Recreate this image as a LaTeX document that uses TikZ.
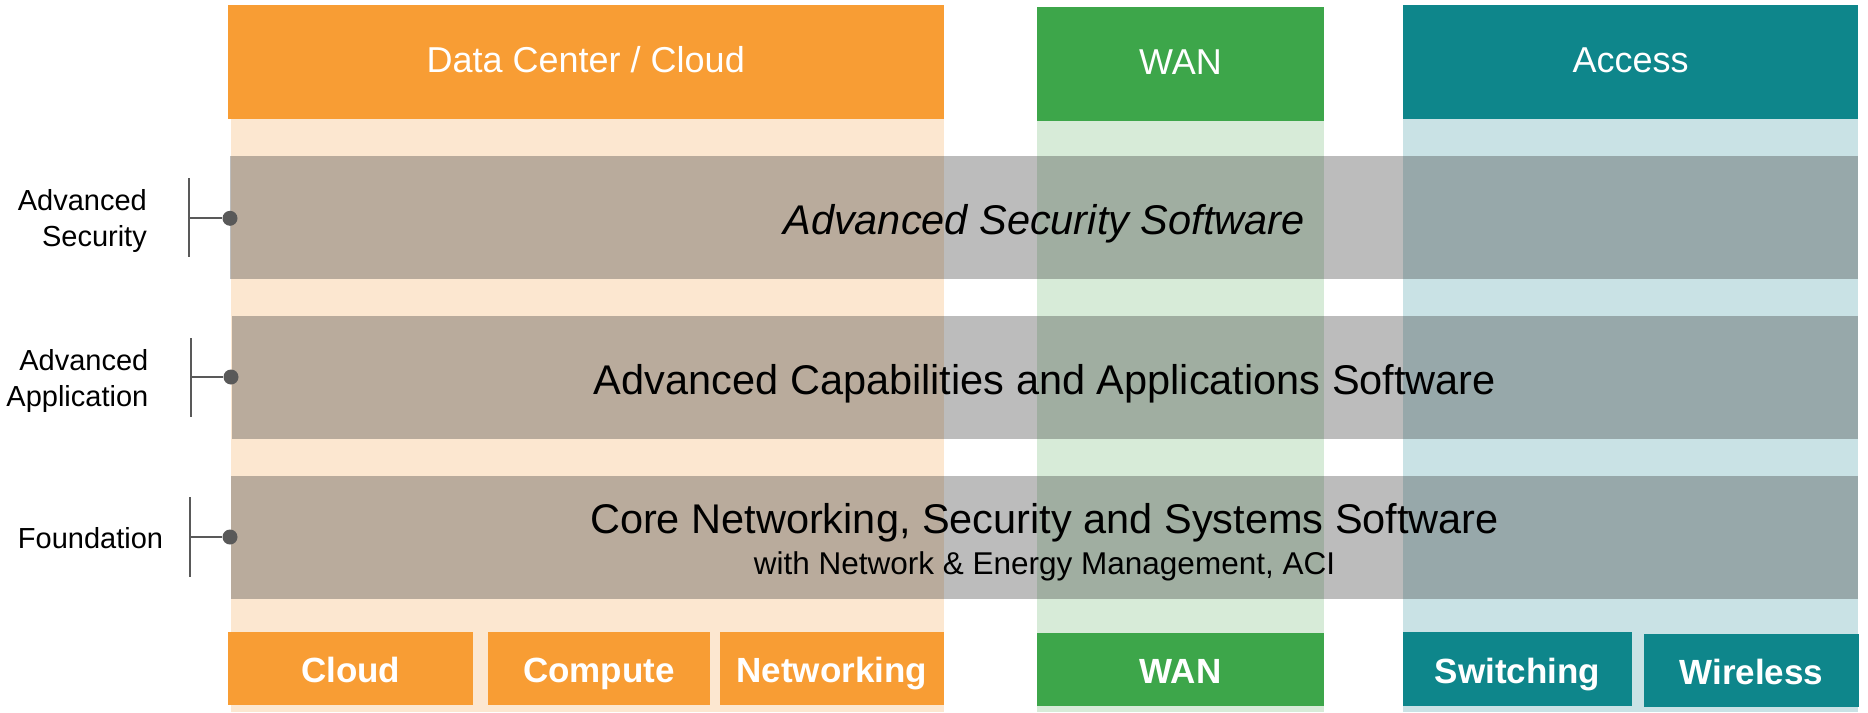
\documentclass[tikz,border=0pt]{standalone}
\usepackage{fontspec}
\setmainfont{Liberation Sans}
\usepackage{tikz}
\definecolor{dcorange}{RGB}{248,157,52}
\definecolor{dclight}{RGB}{252,231,208}
\definecolor{wangreen}{RGB}{61,166,74}
\definecolor{wanlight}{RGB}{215,235,216}
\definecolor{accteal}{RGB}{14,134,139}
\definecolor{acclight}{RGB}{201,226,229}
\definecolor{bandgray}{RGB}{51,51,51}
\definecolor{tickgray}{RGB}{89,89,89}
\tikzstyle{head}=[inner sep=0pt,text=white,text height=26pt,text depth=4.6pt,font=\fontsize{36}{43}\selectfont]
\tikzstyle{base}=[inner sep=0pt,text=white,text height=28pt,text depth=0pt,font=\bfseries\fontsize{35}{42}\selectfont]
\tikzstyle{layer}=[inner sep=0pt,fill=bandgray,fill opacity=0.33,text opacity=1,align=center,minimum height=123pt,text height=33pt,text depth=0pt,font=\fontsize{41.5}{41}\selectfont]
\tikzstyle{tier}=[inner sep=0pt,align=right,text height=57pt,text depth=0pt,font=\fontsize{29}{36}\selectfont]
\tikzstyle{knob}=[circle,fill=tickgray,inner sep=0pt,minimum size=15pt]
\tikzstyle{tick}=[draw=tickgray,line width=2.2pt]

\begin{document}
\begin{tikzpicture}[x=1pt,y=-1pt]
      \useasboundingbox (0,0) rectangle (1868,712);

      \fill[dclight] (231,119) rectangle (943.5,712);
      \fill[wanlight] (1037,121) rectangle (1324,712);
      \fill[acclight] (1403,119) rectangle (1858,712);

      \node[head,fill=dcorange,minimum width=715.5pt,minimum height=114pt] (dc) at (585.75,62) {Data Center / Cloud};
      \node[head,fill=wangreen,minimum width=287pt,minimum height=114pt] (wan) at (1180.5,64) {WAN};
      \node[head,fill=accteal,minimum width=455pt,minimum height=114pt] (access) at (1630.5,62) {Access};

      \node[base,fill=dcorange,minimum width=245pt,minimum height=73pt] (cloud) at (350.75,668.7) {Cloud};
      \node[base,fill=dcorange,minimum width=222pt,minimum height=73pt] (compute) at (599,668.7) {Compute};
      \node[base,fill=dcorange,minimum width=223.5pt,minimum height=73pt] (networking) at (831.75,668.7) {Networking};
      \node[base,fill=wangreen,minimum width=287pt,minimum height=73pt] (wanbox) at (1180.5,669.3) {WAN};
      \node[base,fill=accteal,minimum width=229pt,minimum height=74pt] (switching) at (1517.5,669) {Switching};
      \node[base,fill=accteal,minimum width=215pt,minimum height=73pt] (wireless) at (1751.5,670.5) {Wireless};

      \node[layer,minimum width=1628pt] (security) at (1044,217.5) {\itshape Advanced Security Software};
      \node[layer,minimum width=1626pt] (apps) at (1045,377.5) {Advanced Capabilities and Applications Software};
      \node[layer,minimum width=1627pt,text height=74pt] (core) at (1044.5,537.5) {Core Networking, Security and Systems Software\\
        \fontsize{31.5}{41}\selectfont with Network \& Energy Management, ACI};

      \node[tier,anchor=east] (tsec) at (147,218.2) {Advanced\\Security};
      \node[tier,anchor=east] (tapp) at (148.5,378) {Advanced\\Application};
      \node[tier,text height=21pt] (tfound) at (90.5,537.5) {Foundation};

      \node[knob] (k1) at (230,218.3) {};
      \node[knob] (k2) at (231,377) {};
      \node[knob] (k3) at (230,537) {};
      \coordinate (t1) at (189.3,178);
      \coordinate (b1) at (189.3,257);
      \coordinate (m1) at (189.3,218.3);
      \coordinate (t2) at (191,338);
      \coordinate (b2) at (191,417);
      \coordinate (m2) at (191,377);
      \coordinate (t3) at (190,497);
      \coordinate (b3) at (190,577);
      \coordinate (m3) at (190,537);

      \draw[tick] (t1) -- (b1);
      \draw[tick] (m1) -- (k1);
      \draw[tick] (t2) -- (b2);
      \draw[tick] (m2) -- (k2);
      \draw[tick] (t3) -- (b3);
      \draw[tick] (m3) -- (k3);

    \end{tikzpicture}
\end{document}
